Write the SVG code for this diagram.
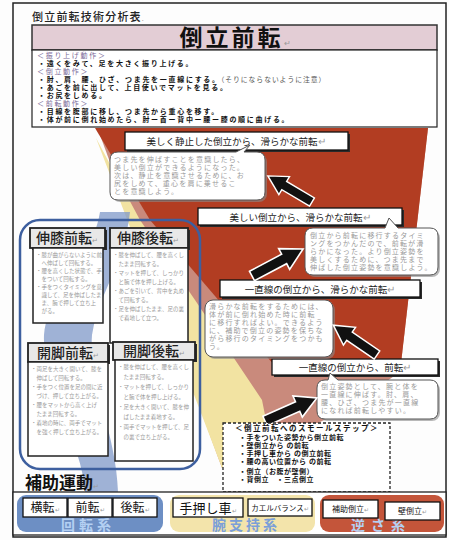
<svg xmlns="http://www.w3.org/2000/svg" width="449" height="540" viewBox="0 0 449 540">
<style>
text{font-family:"Noto Sans CJK JP","Noto Sans CJK SC",sans-serif;}
.body,.ctxt,.ltxt,.step{font-family:"Liberation Sans","Noto Sans CJK JP","Noto Sans CJK SC",sans-serif;}
.pm{fill:#9a9a9a;font-weight:normal;letter-spacing:0;}
.body{font-size:7px;fill:#111;font-weight:bold;letter-spacing:1.7px;}
.hd{fill:#7a6a98;font-weight:normal;}
.stage{fill:#fff;stroke:#111;stroke-width:1.3;}
.shadow{fill:#2a2a2a;}
.stxt{font-size:9.5px;fill:#222;text-anchor:middle;}
.callout{fill:#fff;stroke:#555;stroke-width:1;}
.cshadow{fill:#8a8a8a;opacity:0.6;}
.ctxt{font-size:7px;fill:#9a9a9a;letter-spacing:1.2px;}
.arrow{fill:#111;stroke:#fff;stroke-width:1.5;}
.hbox{fill:#e8e8e8;stroke:#222;stroke-width:1.8;}
.tbox{fill:#fff;stroke:#222;stroke-width:1.5;}
.htxt{font-size:14px;fill:#222;text-anchor:middle;font-weight:500;}
.ltxt{font-size:5.5px;fill:#999;}
.bbox{fill:#fff;stroke:#111;stroke-width:1.3;}
.btxt{fill:#111;text-anchor:middle;}
.glabel{font-size:14px;font-weight:bold;text-anchor:middle;}
.step{font-size:7px;font-weight:bold;fill:#111;letter-spacing:0.5px;}
</style>
<defs>
<path id="arr" d="M0,-5 L34,-5 L34,-11 L54,0 L34,11 L34,5 L0,5 Z"/>
</defs>

<rect x="0" y="0" width="449" height="540" fill="#fdfdfd"/>

<g id="background">
<polygon points="100,135 428,128 400,372 345,410 272,445 222,468" fill="#c98a7c"/>
<polygon points="95,128 428,128 400,372 280,372 150,220" fill="#b23d22"/>
<polygon points="96,138 140,220 195,300 262,400 270,440 222,468" fill="#f2e3a2"/>
<path d="M100,212 L130,212 C124,265 98,295 92,335 C88,385 116,430 118,492 L85,492 C82,440 42,390 44,335 C48,290 92,262 100,212 Z" fill="#7f98c8" opacity="0.75"/>
</g>

<rect x="13" y="3" width="433" height="534" fill="none" stroke="#222" stroke-width="1.5"/>

<g id="title">
<text x="32" y="21" font-size="11" font-weight="500" letter-spacing="1.2" fill="#222">倒立前転技術分析表<tspan class="pm" font-size="7">.</tspan></text>
</g>

<g id="header">
<rect x="32" y="25" width="405" height="25" fill="#e3cdd5" stroke="#333" stroke-width="1.5"/>
<text x="235" y="46" font-size="23" font-weight="bold" text-anchor="middle" letter-spacing="3" fill="#111">倒立前転<tspan class="pm" font-size="8">↵</tspan></text>
</g>

<g id="points">
<rect x="32" y="50" width="405" height="77" fill="#fff" stroke="#222" stroke-width="1.2"/>
<text class="body"><tspan x="37" y="58" class="hd">＜振り上げ動作＞</tspan><tspan x="38" y="66">・遠くをみて、足を大きく振り上げる。</tspan><tspan x="37" y="74" class="hd">＜倒立動作＞</tspan><tspan x="38" y="82">・肘、肩、腰、ひざ、つま先を一直線にする。</tspan><tspan font-weight="normal" fill="#555" font-size="6.8" letter-spacing="1">（そりにならないように注意）</tspan><tspan x="38" y="90">・あごを前に出して、上目使いでマットを見る。</tspan><tspan x="38" y="98">・お尻をしめる。</tspan><tspan x="37" y="106" class="hd">＜前転動作＞</tspan><tspan x="38" y="114">・目線を腹部に移し、つま先から重心を移す。</tspan><tspan x="38" y="122">・体が前に倒れ始めたら、肘ー首ー背中ー腰ー膝の順に曲げる。</tspan></text>
</g>

<g id="aux-group">
<rect x="20" y="220" width="180" height="249" rx="20" fill="none" stroke="#3d5f9f" stroke-width="2.5"/>
</g>

<g id="shinshitsu-zenten">
<rect x="32" y="230" width="75" height="20" class="shadow"/>
<rect x="30" y="228" width="75" height="20" class="hbox"/>
<text x="67" y="243" class="htxt">伸膝前転<tspan class="pm" font-size="7">↵</tspan></text>
<rect x="33" y="248" width="70" height="75" class="tbox"/>
<text class="ltxt"><tspan x="36" y="257">・膝が曲がらないように前</tspan><tspan x="36" y="265">　へ伸ばして回転する。</tspan><tspan x="36" y="273">・腰を高くした状態で、手</tspan><tspan x="36" y="281">　をついて回転する。</tspan><tspan x="36" y="289">・手をつくタイミングを意</tspan><tspan x="36" y="297">　識して、足を伸ばしたま</tspan><tspan x="36" y="305">　ま、腕で押して立ち上</tspan><tspan x="36" y="313">　がる。</tspan></text>
</g>

<g id="shinshitsu-kouten">
<rect x="112" y="230" width="78" height="20" class="shadow"/>
<rect x="110" y="228" width="78" height="20" class="hbox"/>
<text x="148" y="243" class="htxt">伸膝後転<tspan class="pm" font-size="7">↵</tspan></text>
<rect x="110" y="248" width="78" height="95" class="tbox"/>
<text class="ltxt"><tspan x="113" y="257">・膝を伸ばして、腰を高くし</tspan><tspan x="113" y="266">　たまま回転する。</tspan><tspan x="113" y="275">・マットを押して、しっかり</tspan><tspan x="113" y="284">　と腕で体を押し上げる。</tspan><tspan x="113" y="293">・あごを引いて、背中を丸め</tspan><tspan x="113" y="302">　て回転する。</tspan><tspan x="113" y="311">・足を伸ばしたまま、足の裏</tspan><tspan x="113" y="320">　で着地して立つ。</tspan></text>
</g>

<g id="kaikyaku-zenten">
<rect x="30" y="345" width="80" height="19" class="shadow"/>
<rect x="28" y="343" width="80" height="19" class="hbox"/>
<text x="68" y="358" class="htxt">開脚前転<tspan class="pm" font-size="7">↵</tspan></text>
<rect x="28" y="362" width="80" height="94" class="tbox"/>
<text class="ltxt"><tspan x="31" y="371">・両足を大きく開いて、膝を</tspan><tspan x="31" y="380">　伸ばして回転する。</tspan><tspan x="31" y="389">・手をつく位置を足の間に近</tspan><tspan x="31" y="398">　づけ、押して立ち上がる。</tspan><tspan x="31" y="407">・腰をマットから高く上げ</tspan><tspan x="31" y="416">　たまま回転する。</tspan><tspan x="31" y="425">・着地の時に、両手でマット</tspan><tspan x="31" y="434">　を強く押して立ち上がる。</tspan></text>
</g>

<g id="kaikyaku-kouten">
<rect x="115" y="344" width="82" height="18" class="shadow"/>
<rect x="113" y="342" width="82" height="18" class="hbox"/>
<text x="154" y="356" class="htxt">開脚後転<tspan class="pm" font-size="7">↵</tspan></text>
<rect x="115" y="360" width="78" height="101" class="tbox"/>
<text class="ltxt"><tspan x="118" y="369">・膝を伸ばして、腰を高くし</tspan><tspan x="118" y="379">　たまま回転する。</tspan><tspan x="118" y="389">・マットを押して、しっかり</tspan><tspan x="118" y="399">　と腕で体を押し上げる。</tspan><tspan x="118" y="409">・足を大きく開いて、膝を伸</tspan><tspan x="118" y="419">　ばしたまま着地する。</tspan><tspan x="118" y="429">・両手でマットを押して、足</tspan><tspan x="118" y="439">　の裏で立ち上がる。</tspan></text>
</g>

<g id="stage1">
<rect x="127" y="134" width="223" height="18" class="shadow"/>
<rect x="125" y="132" width="223" height="18" class="stage"/>
<text x="236" y="145" class="stxt">美しく静止した倒立から、滑らかな前転<tspan class="pm">↵</tspan></text>
</g>

<g id="stage2">
<rect x="200" y="210" width="204" height="17" class="shadow"/>
<rect x="198" y="208" width="204" height="17" class="stage"/>
<text x="300" y="220.5" class="stxt">美しい倒立から、滑らかな前転<tspan class="pm">↵</tspan></text>
</g>

<g id="stage3">
<rect x="222" y="282" width="200" height="17" class="shadow"/>
<rect x="220" y="280" width="200" height="17" class="stage"/>
<text x="320" y="292.5" class="stxt">一直線の倒立から、滑らかな前転<tspan class="pm">↵</tspan></text>
</g>

<g id="stage4">
<rect x="274" y="361" width="166" height="16" class="shadow"/>
<rect x="272" y="359" width="166" height="16" class="stage"/>
<text x="355" y="371" class="stxt">一直線の倒立から、前転<tspan class="pm">↵</tspan></text>
</g>

<g id="callout1">
<rect x="112" y="154" width="155" height="48" rx="8" class="cshadow"/>
<path d="M118,152 L236,152 L250,145 L244,152 L257,152 Q265,152 265,160 L265,192 Q265,200 257,200 L118,200 Q110,200 110,192 L110,160 Q110,152 118,152 Z" class="callout"/>
<text class="ctxt"><tspan x="114" y="162">つま先を伸ばすことを意識したら、</tspan><tspan x="114" y="170">美しい倒立ができるようになった。</tspan><tspan x="114" y="178">次は、静止を意識させるために、お</tspan><tspan x="114" y="186">尻をしめて、重心を肩に乗せるこ</tspan><tspan x="114" y="194">とを意識しよう。</tspan></text>
</g>

<g id="callout2">
<rect x="307" y="230" width="133" height="47" rx="8" class="cshadow"/>
<path d="M313,228 L385,228 L389,218 L398,228 L430,228 Q438,228 438,236 L438,267 Q438,275 430,275 L313,275 Q305,275 305,267 L305,236 Q305,228 313,228 Z" class="callout"/>
<text class="ctxt"><tspan x="310" y="238">倒立から前転に移行するタイミ</tspan><tspan x="310" y="246">ングをつかんだので、前転が滑</tspan><tspan x="310" y="254">らかになった。より倒立姿勢を</tspan><tspan x="310" y="262">美しくするために、つま先まで</tspan><tspan x="310" y="270">伸ばした倒立姿勢を意識しよう。</tspan></text>
</g>

<g id="callout3">
<rect x="207" y="302" width="128" height="57" rx="8" class="cshadow"/>
<rect x="205" y="300" width="128" height="57" rx="8" class="callout"/>
<text class="ctxt"><tspan x="209" y="309">滑らかな前転をするためには、</tspan><tspan x="209" y="317">体が前に倒れ始めた時に前転</tspan><tspan x="209" y="325">に移行すればよい。できるよう</tspan><tspan x="209" y="333">に、補助で倒立の姿勢を保ちな</tspan><tspan x="209" y="341">がら移行のタイミングをつかも</tspan><tspan x="209" y="349">う。</tspan></text>
</g>

<g id="callout4">
<rect x="319" y="382" width="121" height="39" rx="8" class="cshadow"/>
<path d="M325,380 L328,380 L330,373 L338,380 L430,380 Q438,380 438,388 L438,411 Q438,419 430,419 L325,419 Q317,419 317,411 L317,388 Q317,380 325,380 Z" class="callout"/>
<text class="ctxt"><tspan x="321" y="389">倒立姿勢として、腕と体を</tspan><tspan x="321" y="397">一直線に伸ばす。肘、肩、</tspan><tspan x="321" y="405">腰、ひざ、つま先が一直線</tspan><tspan x="321" y="413">になれば前転しやすい。</tspan></text>
</g>

<g id="connectors">
<use href="#arr" class="arrow" transform="translate(312,202) rotate(210.6) scale(0.95)"/>
<use href="#arr" class="arrow" transform="translate(252,276) rotate(-27.9) scale(1.07)"/>
<use href="#arr" class="arrow" transform="translate(377,355) rotate(214.3) scale(0.98)"/>
<use href="#arr" class="arrow" transform="translate(265,421) rotate(-23.9) scale(1.05)"/>
</g>

<g id="small-steps">
<rect x="223" y="423" width="167" height="69" fill="#fff" stroke="#222" stroke-width="1.3" stroke-dasharray="3,2"/>
<text class="step"><tspan x="235" y="431" font-size="7.5" letter-spacing="1.5">＜倒立前転へのスモールステップ＞</tspan><tspan x="239" y="440">・手をついた姿勢から倒立前転</tspan><tspan x="239" y="448">・壁倒立から の前転</tspan><tspan x="239" y="456">・手押し車から の倒立前転</tspan><tspan x="239" y="464">・腰の高い位置から の前転</tspan><tspan x="239" y="474">・倒立（お腹が壁側）</tspan><tspan x="239" y="482">・背倒立　・三点倒立</tspan></text>
</g>

<g id="hojo-title">
<text x="25" y="489" font-size="17" font-weight="bold" fill="#111">補助運動<tspan class="pm" font-size="7">↵</tspan></text>
</g>

<g id="hojo">
<rect x="13" y="492" width="433" height="43" fill="#fff" stroke="#222" stroke-width="1.3"/>
</g>

<g id="kaiten-kei">
<rect x="17" y="495" width="146" height="37" rx="9" fill="#6d8fc4"/>
<text x="88" y="530" class="glabel" fill="#b4d0f2" letter-spacing="4">回転系</text>
<rect x="23" y="498" width="44" height="19" class="bbox"/>
<text x="45" y="512" class="btxt" font-size="12">横転<tspan class="pm" font-size="6">↵</tspan></text>
<rect x="68" y="498" width="44" height="19" class="bbox"/>
<text x="90" y="512" class="btxt" font-size="12">前転<tspan class="pm" font-size="6">↵</tspan></text>
<rect x="113" y="498" width="44" height="19" class="bbox"/>
<text x="135" y="512" class="btxt" font-size="12">後転<tspan class="pm" font-size="6">↵</tspan></text>
</g>

<g id="wanshiji-kei">
<rect x="170" y="495" width="145" height="37" rx="9" fill="#f3e4ab"/>
<text x="246" y="530" class="glabel" fill="#7b9fd8" letter-spacing="3">腕支持系</text>
<rect x="173" y="498" width="70" height="19" class="bbox"/>
<text x="208" y="512.5" class="btxt" font-size="13">手押し車<tspan class="pm" font-size="6">↵</tspan></text>
<rect x="248" y="499" width="64" height="17" class="bbox"/>
<text x="280" y="510.5" class="btxt" font-size="7.5">カエルバランス<tspan class="pm" font-size="6">↵</tspan></text>
</g>

<g id="sakasa-kei">
<rect x="320" y="495" width="124" height="37" rx="9" fill="#c4553a"/>
<text x="381" y="530" class="glabel" fill="#b4d0f2" letter-spacing="6">逆さ系</text>
<rect x="323" y="500" width="55" height="18" class="bbox"/>
<text x="350.5" y="512" class="btxt" font-size="8">補助倒立<tspan class="pm" font-size="6">↵</tspan></text>
<rect x="385" y="502" width="55" height="18" class="bbox"/>
<text x="412.5" y="514" class="btxt" font-size="8">壁倒立<tspan class="pm" font-size="6">↵</tspan></text>
</g>
</svg>
